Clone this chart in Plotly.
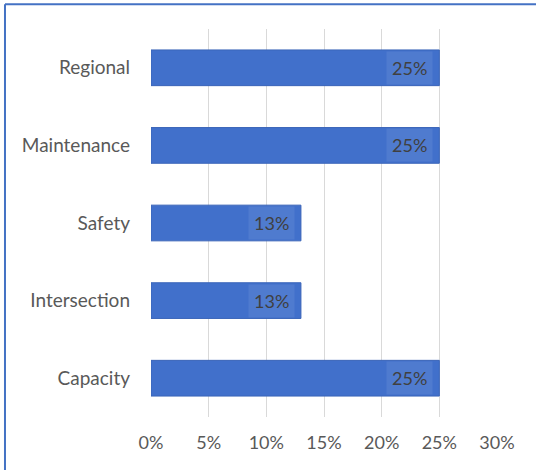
import plotly.graph_objects as go

categorias = ['Capacity', 'Intersection', 'Safety', 'Maintenance', 'Regional']
valores = [0.25, 0.13, 0.13, 0.25, 0.25]
ticks = [0, 0.05, 0.10, 0.15, 0.20, 0.25, 0.30]
tick_labels = ['0%', '5%', '10%', '15%', '20%', '25%', '30%']

fig = go.Figure()

fig.add_trace(go.Bar(
    y=categorias,
    x=valores,
    orientation='h',
    width=0.46,
    marker=dict(color='#4170CB', line=dict(color='#3A64B8', width=1)),
    hoverinfo='skip'
))

# rótulos de dados com fundo levemente mais claro
for cat, v in zip(categorias, valores):
    fig.add_annotation(
        x=v, y=cat, xref='x', yref='y',
        text=f'{v:.0%}', showarrow=False,
        xanchor='right', xshift=-6,
        font=dict(family='Lato', size=18, color='#404040'),
        bgcolor='rgba(255,255,255,0.08)',
        borderpad=5
    )

# borda azul do quadro (esquerda e topo)
fig.add_shape(type='line', xref='paper', yref='paper',
              x0=-0.422, x1=-0.422, y0=-0.2, y1=1.064,
              line=dict(color='#4472C4', width=2))
fig.add_shape(type='line', xref='paper', yref='paper',
              x0=-0.422, x1=1.2, y0=1.064, y1=1.064,
              line=dict(color='#4472C4', width=2))

fig.update_layout(
    width=536, height=470,
    margin=dict(l=151, r=39, t=29, b=53),
    paper_bgcolor='white', plot_bgcolor='white',
    showlegend=False,
    xaxis=dict(range=[0, 0.30], tickvals=ticks, ticktext=tick_labels,
               showgrid=True, gridcolor='#D9D9D9', gridwidth=1,
               zeroline=False, showline=False, ticks='',
               ticklabelstandoff=13,
               tickfont=dict(family='Lato', size=18, color='#595959')),
    yaxis=dict(showgrid=False, zeroline=False, showline=False, ticks='',
               ticklabelstandoff=20,
               tickfont=dict(family='Lato', size=19, color='#595959'))
)

fig.write_html('out.html', config={'displayModeBar': False},
               post_script="document.body.style.margin='0';")
